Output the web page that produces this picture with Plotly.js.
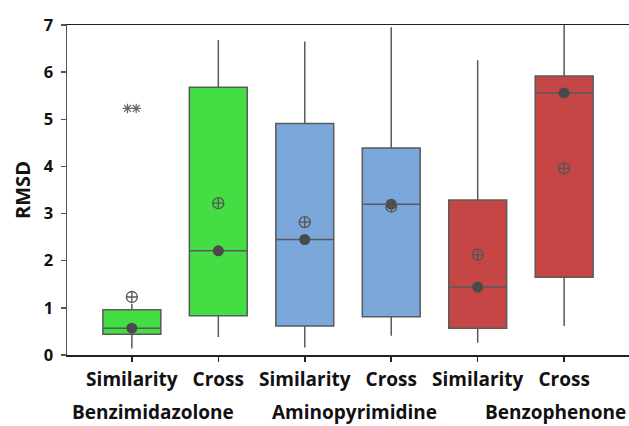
<!DOCTYPE html>
<html>
<head>
<meta charset="utf-8">
<script src="https://cdn.plot.ly/plotly-3.0.1.min.js"></script>
<style>html,body{margin:0;padding:0;background:#fff;}#chart{width:629px;height:426px;}</style>
</head>
<body>
<div id="chart"></div>
<script>
// ---- data ----
const categories = ['Similarity', 'Cross', 'Similarity', 'Cross', 'Similarity', 'Cross'];
const groups = ['Benzimidazolone', 'Aminopyrimidine', 'Benzophenone'];
const q1 = [0.44, 0.83, 0.615, 0.81, 0.57, 1.65];
const medians = [0.57, 2.21, 2.45, 3.20, 1.44, 5.56];
const q3 = [0.96, 5.68, 4.91, 4.39, 3.29, 5.92];
const whiskerLow = [0.14, 0.38, 0.16, 0.41, 0.26, 0.615];
const whiskerHigh = [1.08, 6.68, 6.65, 6.95, 6.25, 7.0];
const means = [1.23, 3.22, 2.82, 3.15, 2.13, 3.96];
const outlierBox = [0, 0];
const outlierValues = [5.23, 5.23];

// ---- styling ----
const groupColors = ['#44DD44', '#7BA7DA', '#C64646'];
const FONT = 'Open Sans, Noto Sans, DejaVu Sans, sans-serif';
const idx = categories.map((_, i) => i);

const traces = [];
groups.forEach((g, gi) => {
  const ids = idx.filter(i => Math.floor(i / 2) === gi);
  traces.push({
    type: 'box',
    x: ids,
    q1: ids.map(i => q1[i]),
    median: ids.map(i => medians[i]),
    q3: ids.map(i => q3[i]),
    lowerfence: ids.map(i => whiskerLow[i]),
    upperfence: ids.map(i => whiskerHigh[i]),
    width: 0.67,
    whiskerwidth: 0,
    fillcolor: groupColors[gi],
    line: {color: '#5a5a5a', width: 1.5},
    boxpoints: false,
    hoverinfo: 'skip',
    showlegend: false
  });
});

// median dots
traces.push({
  type: 'scatter', mode: 'markers', x: idx, y: medians,
  marker: {symbol: 'circle', size: 11, color: '#4a4a4a'},
  showlegend: false, hoverinfo: 'skip'
});
// mean symbols
traces.push({
  type: 'scatter', mode: 'markers', x: idx, y: means,
  marker: {symbol: 'circle-cross-open', size: 11, color: '#555555', line: {width: 1.3, color: '#555555'}},
  showlegend: false, hoverinfo: 'skip'
});
// outliers (duplicates spread side by side)
const dupOffset = 0.05;
traces.push({
  type: 'scatter', mode: 'markers',
  x: outlierBox.map((b, k) => b + (k - (outlierBox.length - 1) / 2) * 2 * dupOffset),
  y: outlierValues,
  marker: {symbol: 'asterisk-open', size: 8, color: '#666666', line: {width: 1.2, color: '#666666'}},
  showlegend: false, hoverinfo: 'skip'
});

const groupLabelX = [0.24, 2.58, 4.9];
const annotations = groups.map((g, gi) => ({
  text: g, xref: 'x', yref: 'paper', x: groupLabelX[gi], y: -0.172,
  xanchor: 'center', yanchor: 'middle', showarrow: false, borderpad: 0,
  font: {family: FONT, size: 19, color: '#111', weight: 700}
}));

const layout = {
  width: 629, height: 426,
  margin: {l: 67, r: 0, t: 25, b: 71},
  paper_bgcolor: '#fff', plot_bgcolor: '#fff',
  boxmode: 'overlay',
  xaxis: {
    range: [-0.75, 5.75],
    tickmode: 'array', tickvals: idx, ticktext: categories,
    ticks: 'outside', ticklen: 5, tickcolor: '#222', tickwidth: 1.5,
    showline: true, linecolor: '#222', linewidth: 1.5, mirror: true,
    showgrid: false, zeroline: false,
    ticklabelstandoff: 2,
    tickfont: {family: FONT, size: 19, color: '#111', weight: 700}
  },
  yaxis: {
    range: [0, 7], dtick: 1,
    ticks: 'outside', ticklen: 5, tickcolor: '#555', tickwidth: 1.5,
    showline: true, linecolor: '#555', linewidth: 1.5,
    showgrid: false, zeroline: false,
    tickfont: {family: FONT, size: 16.5, color: '#111', weight: 700},
    ticklabelstandoff: 4,
    title: {text: 'RMSD', standoff: 8, font: {family: FONT, size: 20, color: '#111', weight: 700}}
  },
  annotations: annotations
};

Plotly.newPlot('chart', traces, layout, {staticPlot: true});
</script>
</body>
</html>
